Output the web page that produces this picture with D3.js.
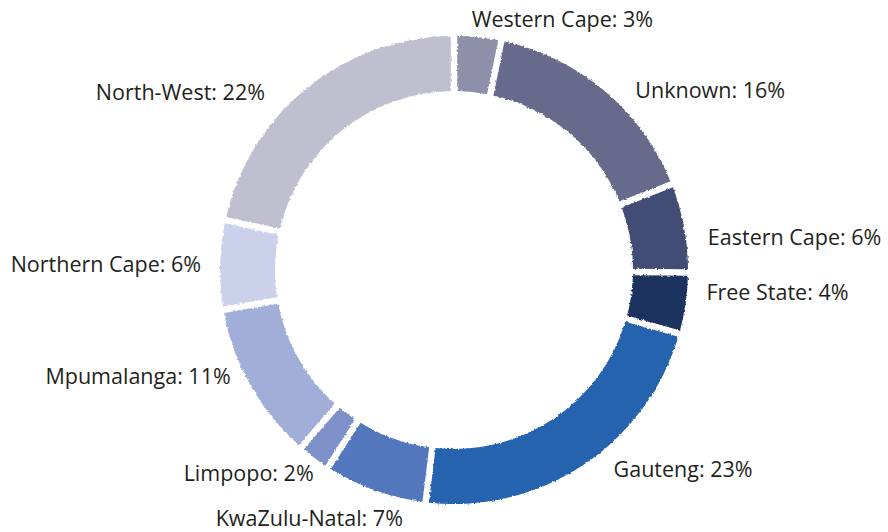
<!DOCTYPE html>
<html>
<head>
<meta charset="utf-8">
<script src="https://cdn.jsdelivr.net/npm/d3@7"></script>
<style>
  body { margin: 0; background: #fff; }
  svg text { font-family: "Open Sans", "Noto Sans", sans-serif; font-size: 21.5px; fill: #231f20; }
</style>
</head>
<body>
<div class="visHolder"></div>
<script>
let provinces = ['Western Cape', 'Unknown', 'Eastern Cape', 'Free State', 'Gauteng',
                 'KwaZulu-Natal', 'Limpopo', 'Mpumalanga', 'Northern Cape', 'North-West'];
let shares = [3, 16, 6, 4, 23, 7, 2, 11, 6, 22];
let colours = ['#8e8fa9', '#686a8c', '#434d75', '#1b335f', '#2563ae',
               '#5277bd', '#7d90c8', '#a1aed8', '#cbd1ea', '#bfbfcf'];

let width = 888;
let height = 532;
let cx = 454, cy = 270;
let outerR = 234, innerR = 179;
let labelR = 252;

// hand nudges so the labels sit where the original put them
let nudge = {
  'Western Cape': [-8, 0], 'Unknown': [19, 13], 'Eastern Cape': [6, 13],
  'Free State': [3, -14], 'Gauteng': [20, -10], 'KwaZulu-Natal': [34, 11],
  'Limpopo': [10, 1], 'Mpumalanga': [-4, -18], 'Northern Cape': [-1, 0],
  'North-West': [-31, 19]
};

let svg = d3.select('.visHolder').append('svg')
  .attr('width', width)
  .attr('height', height);

let defs = svg.append('defs');
let filter = defs.append('filter').attr('id', 'rough')
  .attr('x', '-5%').attr('y', '-5%').attr('width', '110%').attr('height', '110%');
filter.append('feTurbulence').attr('type', 'fractalNoise')
  .attr('baseFrequency', 0.35).attr('numOctaves', 2).attr('result', 'noise');
filter.append('feDisplacementMap').attr('in', 'SourceGraphic').attr('in2', 'noise')
  .attr('scale', 3).attr('xChannelSelector', 'R').attr('yChannelSelector', 'G');

let items = provinces.map((p, i) => ({ name: p, value: shares[i], colour: colours[i] }));

let pie = d3.pie().sort(null).value(d => d.value).padAngle(0.022);
let arc = d3.arc().innerRadius(innerR).outerRadius(outerR);

let arcs = pie(items);

let g = svg.append('g').attr('transform', 'translate(' + cx + ',' + cy + ')');

g.selectAll('path')
  .data(arcs)
  .enter().append('path')
  .attr('d', arc)
  .attr('fill', d => d.data.colour)
  .attr('filter', 'url(#rough)');

g.selectAll('text')
  .data(arcs)
  .enter().append('text')
  .attr('x', d => {
    let a = (d.startAngle + d.endAngle) / 2;
    return labelR * Math.sin(a) + nudge[d.data.name][0];
  })
  .attr('y', d => {
    let a = (d.startAngle + d.endAngle) / 2;
    return -labelR * Math.cos(a) + nudge[d.data.name][1];
  })
  .attr('dy', '0.35em')
  .attr('text-anchor', d => Math.sin((d.startAngle + d.endAngle) / 2) >= 0 ? 'start' : 'end')
  .text(d => d.data.name + ': ' + d.data.value + '%');
</script>
</body>
</html>
